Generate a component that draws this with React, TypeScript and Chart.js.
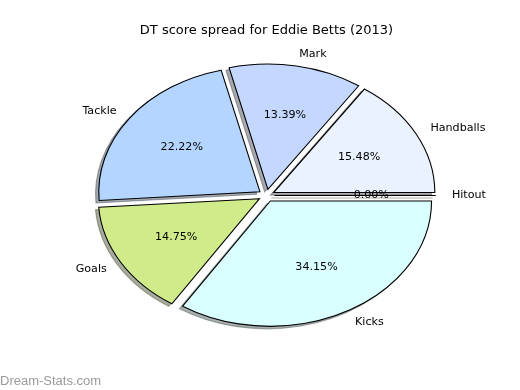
import { useEffect, useRef } from "react";
import { Chart, registerables } from "chart.js";

Chart.register(...registerables);

// ---- data ----
const categories = ["Handballs", "Mark", "Tackle", "Goals", "Kicks", "Hitout"];
const shares = [15.48, 13.39, 22.22, 14.75, 34.15, 0.0];
const sliceColors = ["#eaf1ff", "#c4d8ff", "#b3d5ff", "#d0eb8a", "#d9ffff", "#ffd9b3"];
const titleText = "DT score spread for Eddie Betts (2013)";
const watermarkText = "Dream-Stats.com";

// ---- layout / style (matplotlib-like axes geometry) ----
const CX = 266.5;
const CY = 195.5;
const RX = 161.2;
const RY = 125.3;
const EXPLODE = 0.05;
const LABEL_DIST = 1.1;
const PCT_DIST = 0.6;
const SHADOW_DX = -0.02;
const SHADOW_DY = -0.02;
const LINE_W = 1.1;
const FONT = '"DejaVu Sans", sans-serif';
const LABEL_PX = 11.11;

function shadowOf(hex: string): string {
  const n = parseInt(hex.slice(1), 16);
  const r = Math.round(((n >> 16) & 255) * 0.3);
  const g = Math.round(((n >> 8) & 255) * 0.3);
  const b = Math.round((n & 255) * 0.3);
  return `rgba(${r},${g},${b},0.45)`;
}

const mplPie = {
  id: "mplPie",
  beforeDatasetDraw(chart: any, args: any) {
    const ctx: CanvasRenderingContext2D = chart.ctx;
    const arcs = args.meta.data;
    const base = ctx.getTransform();
    const place = (arc: any, dx = 0, dy = 0) => {
      const R = arc.outerRadius;
      const mid = (arc.startAngle + arc.endAngle) / 2;
      ctx.translate(dx, dy);
      ctx.translate(CX, CY);
      ctx.scale(RX / R, -RY / R);
      ctx.translate(
        -arc.x + Math.cos(mid) * EXPLODE * R,
        -arc.y + Math.sin(mid) * EXPLODE * R
      );
    };
    const wedgePath = (arc: any) => {
      ctx.beginPath();
      ctx.moveTo(arc.x, arc.y);
      ctx.arc(arc.x, arc.y, arc.outerRadius, arc.startAngle, arc.endAngle);
      ctx.closePath();
    };
    // shadows (behind every wedge)
    arcs.forEach((arc: any, i: number) => {
      ctx.save();
      place(arc, SHADOW_DX * RX, -SHADOW_DY * RY);
      wedgePath(arc);
      ctx.setTransform(base);
      const c = shadowOf(sliceColors[i]);
      ctx.fillStyle = c;
      ctx.fill();
      ctx.strokeStyle = c;
      ctx.lineWidth = LINE_W;
      ctx.lineJoin = "miter";
      ctx.stroke();
      ctx.restore();
    });
    // wedges
    arcs.forEach((arc: any) => {
      ctx.save();
      place(arc);
      if (arc.circumference > 0) arc.draw(ctx);
      wedgePath(arc);
      ctx.setTransform(base);
      ctx.strokeStyle = "#000";
      ctx.lineWidth = LINE_W;
      ctx.lineJoin = "miter";
      ctx.stroke();
      ctx.restore();
    });
    return false;
  },
  afterDatasetsDraw(chart: any) {
    const ctx: CanvasRenderingContext2D = chart.ctx;
    const arcs = chart.getDatasetMeta(0).data;
    const total = shares.reduce((a, b) => a + b, 0);
    ctx.save();
    ctx.fillStyle = "#000";
    ctx.font = `${LABEL_PX}px ${FONT}`;
    ctx.textBaseline = "middle";
    arcs.forEach((arc: any, i: number) => {
      const mid = (arc.startAngle + arc.endAngle) / 2;
      const c = Math.cos(mid);
      const s = Math.sin(mid);
      const lx = CX + RX * (EXPLODE + LABEL_DIST) * c;
      const ly = CY - RY * (EXPLODE + LABEL_DIST) * s;
      ctx.textAlign = c > 0 ? "left" : "right";
      ctx.fillText(categories[i], lx, ly);
      const px = CX + RX * (EXPLODE + PCT_DIST) * c;
      const py = CY - RY * (EXPLODE + PCT_DIST) * s;
      ctx.textAlign = "center";
      ctx.fillText(((shares[i] / total) * 100).toFixed(2) + "%", px, py);
    });
    ctx.restore();
  },
  afterDraw(chart: any) {
    const ctx: CanvasRenderingContext2D = chart.ctx;
    ctx.save();
    ctx.fillStyle = "#9a9a9a";
    ctx.font = '13px "Liberation Sans", Arial, sans-serif';
    ctx.textAlign = "left";
    ctx.textBaseline = "alphabetic";
    ctx.fillText(watermarkText, 0, 385);
    ctx.restore();
  },
};

export default function App() {
  const ref = useRef<HTMLCanvasElement | null>(null);
  useEffect(() => {
    if (!ref.current) return;
    const chart = new Chart(ref.current, {
      type: "pie",
      data: {
        labels: categories,
        datasets: [
          {
            data: shares,
            backgroundColor: sliceColors,
            borderColor: "#000",
            borderWidth: 0,
          },
        ],
      },
      options: {
        responsive: false,
        animation: false,
        events: [],
        rotation: 90,
        layout: { padding: { left: 13, bottom: 29 } },
        plugins: {
          legend: { display: false },
          tooltip: { enabled: false },
          title: {
            display: true,
            text: titleText,
            color: "#000",
            font: { family: FONT, size: 13, weight: "normal" },
            padding: { top: 23, bottom: 0 },
          },
        },
      } as any,
      plugins: [mplPie as any],
    });
    return () => chart.destroy();
  }, []);
  return (
    <div style={{ position: "fixed", left: 0, top: 0, width: 520, height: 390, background: "#fff" }}>
      <canvas ref={ref} width={520} height={390} style={{ display: "block" }} />
    </div>
  );
}
